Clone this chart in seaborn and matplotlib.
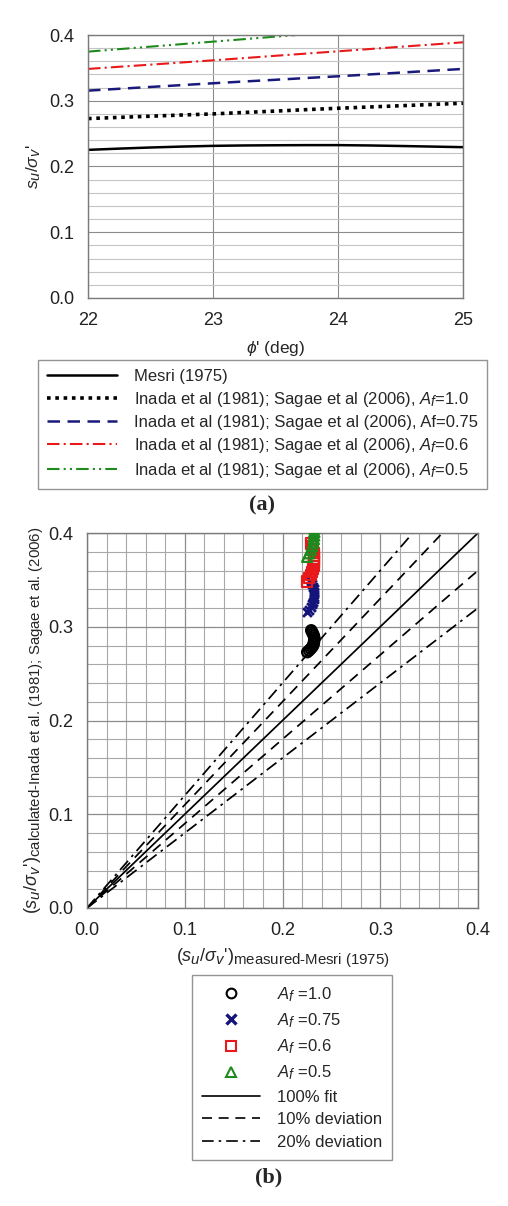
import numpy as np
import pandas as pd
import matplotlib
matplotlib.use("Agg")
import matplotlib.pyplot as plt
import matplotlib._mathtext as _mt
from matplotlib.ticker import MultipleLocator, FormatStrFormatter
from matplotlib.lines import Line2D
import seaborn as sns

# ---------------- data ----------------
phi = [22.0, 22.25, 22.5, 22.75, 23.0, 23.25, 23.5, 23.75, 24.0, 24.25, 24.5, 24.75, 25.0]
mesri = [0.2253, 0.2272, 0.2289, 0.2303, 0.2314, 0.2320, 0.2323, 0.2325, 0.2325, 0.2320, 0.2312, 0.2303, 0.2294]
af10 = [0.2729, 0.2747, 0.2765, 0.2783, 0.2800, 0.2822, 0.2843, 0.2865, 0.2886, 0.2905, 0.2924, 0.2943, 0.2962]
af075 = [0.3154, 0.3182, 0.3210, 0.3238, 0.3266, 0.3293, 0.3319, 0.3346, 0.3372, 0.3400, 0.3428, 0.3456, 0.3484]
af06 = [0.3484, 0.3517, 0.3549, 0.3582, 0.3615, 0.3649, 0.3684, 0.3718, 0.3752, 0.3786, 0.3821, 0.3855, 0.3889]
af05 = [0.3747, 0.3785, 0.3823, 0.3861, 0.3899, 0.3937, 0.3975, 0.4013, 0.4051, 0.4089, 0.4127, 0.4165, 0.4203]

fit_ratios = [1.0, 1.1, 0.9, 1.2, 0.8]
fit_styles = ["100% fit", "10% deviation", "10% deviation", "20% deviation", "20% deviation"]

legend_a = ["Mesri (1975)",
            "Inada et al (1981); Sagae et al (2006), $A_f$=1.0",
            "Inada et al (1981); Sagae et al (2006), Af=0.75",
            "Inada et al (1981); Sagae et al (2006), $A_f$=0.6",
            "Inada et al (1981); Sagae et al (2006), $A_f$=0.5"]
legend_b = ["$A_f$ =1.0", "$A_f$ =0.75", "$A_f$ =0.6", "$A_f$ =0.5"]

# ---------------- style ----------------
sns.set_style("white")
plt.rcParams["font.family"] = ["Liberation Sans", "DejaVu Sans"]
plt.rcParams["mathtext.fontset"] = "custom"
plt.rcParams["mathtext.rm"] = "Liberation Sans"
plt.rcParams["mathtext.it"] = "Liberation Sans:italic"
plt.rcParams["mathtext.bf"] = "Liberation Sans:bold"
_mt.SHRINK_FACTOR = 0.83

W, H = 508, 1206
fig = plt.figure(figsize=(W / 100, H / 100), dpi=100)
fig.patch.set_facecolor("white")

def ax_rect(l, t, r, b):
    return [l / W, 1 - b / H, (r - l) / W, (b - t) / H]

MAJ = "#8c8c8c"
MIN = "#c4c4c4"

def style_axes(ax):
    for s in ax.spines.values():
        s.set_color("#7a7a7a")
        s.set_linewidth(1.0)
    ax.tick_params(axis="both", which="major", direction="out", length=4, width=1,
                   color="#7a7a7a", labelsize=13, labelcolor="#222222")
    ax.tick_params(axis="x", which="major", pad=6)
    ax.tick_params(axis="y", which="major", pad=6)
    ax.tick_params(axis="both", which="minor", length=0)
    ax.set_axisbelow(True)

# ---------------- (a) ----------------
axa = fig.add_axes(ax_rect(88, 35, 463, 298))
series = [(mesri, "black", "-", 1.8),
          (af10, "black", (0, (1, 1.3)), 2.6),
          (af075, "#1a1a7a", (0, (5, 3)), 1.8),
          (af06, "#e8191b", (0, (6, 2, 1, 2)), 1.5),
          (af05, "#1e8a1e", (0, (6, 2, 1, 2, 1, 2)), 1.5)]
handles_a = []
for (vals, col, ls, lw), lab in zip(series, legend_a):
    sns.lineplot(x=phi, y=vals, ax=axa, color=col, linestyle=ls, linewidth=lw)
    handles_a.append(Line2D([0], [0], color=col, linestyle=ls, linewidth=lw))
axa.set_xlim(22, 25)
axa.set_ylim(0, 0.4)
axa.xaxis.set_major_locator(MultipleLocator(1))
axa.yaxis.set_major_locator(MultipleLocator(0.1))
axa.yaxis.set_minor_locator(MultipleLocator(0.02))
axa.yaxis.set_major_formatter(FormatStrFormatter("%.1f"))
axa.grid(True, which="major", color=MAJ, linewidth=0.8)
axa.grid(True, which="minor", axis="y", color=MIN, linewidth=0.8)
style_axes(axa)
axa.set_xlabel(r"$\phi$' (deg)", fontsize=12.5, labelpad=7)
axa.set_ylabel(r"$s_u/\sigma_v$'", fontsize=12.5, labelpad=4)

fig.legend(handles_a, legend_a, loc="upper left", bbox_to_anchor=(38 / W, 1 - 360 / H),
           fontsize=12, frameon=True, fancybox=False, edgecolor="#7a7a7a",
           handlelength=4.2, handletextpad=1.0, labelspacing=0.36, borderpad=0.55,
           borderaxespad=0)
fig.text(262 / W, 1 - 505 / H, "(a)", ha="center", va="center", fontsize=16,
         fontweight="bold", family="Liberation Serif")

# ---------------- (b) ----------------
axb = fig.add_axes(ax_rect(87, 533, 478, 908))
markers = [("o", "black", "none"), ("X", "#14147a", "#14147a"),
           ("s", "#e8191b", "none"), ("^", "#1e8a1e", "none")]
handles_b = []
for vals, (m, col, fc), lab in zip([af10, af075, af06, af05], markers, legend_b):
    if m == "X":
        sns.scatterplot(x=mesri, y=vals, ax=axb, marker="x", color=col, s=40,
                        linewidth=2.0, zorder=3)
        handles_b.append(Line2D([0], [0], marker="x", color="none", markeredgecolor=col,
                                markersize=7, markeredgewidth=2.4))
    else:
        sns.scatterplot(x=mesri, y=vals, ax=axb, marker=m, facecolor="none",
                        edgecolor=col, s=55, linewidth=1.6, zorder=3)
        handles_b.append(Line2D([0], [0], marker=m, color="none", markerfacecolor="none",
                                markeredgecolor=col, markersize=7, markeredgewidth=1.5))

fit_ls = {"100% fit": "-", "10% deviation": (0, (6, 4)), "20% deviation": (0, (7, 3, 1.5, 3))}
for r, name in zip(fit_ratios, fit_styles):
    axb.axline((0, 0), slope=r, color="black", linewidth=1.25, linestyle=fit_ls[name])
for name in ["100% fit", "10% deviation", "20% deviation"]:
    handles_b.append(Line2D([0], [0], color="black", linewidth=1.2, linestyle=fit_ls[name]))

axb.set_xlim(0, 0.4)
axb.set_ylim(0, 0.4)
for axis in (axb.xaxis, axb.yaxis):
    axis.set_major_locator(MultipleLocator(0.1))
    axis.set_minor_locator(MultipleLocator(0.02))
    axis.set_major_formatter(FormatStrFormatter("%.1f"))
axb.grid(True, which="major", color=MAJ, linewidth=0.9)
axb.grid(True, which="minor", color="#a8a8a8", linewidth=0.8)
style_axes(axb)
axb.set_xlabel(r"$(s_u/\sigma_v$'$)_{\text{measured-Mesri (1975)}}$", fontsize=13, labelpad=5)
axb.set_ylabel(r"$(s_u/\sigma_v$'$)_{\text{calculated-Inada et al. (1981); Sagae et al. (2006)}}$",
               fontsize=13, labelpad=2)

fig.legend(handles_b, legend_b + ["100% fit", "10% deviation", "20% deviation"],
           loc="upper center", bbox_to_anchor=(292 / W, 1 - 975 / H),
           fontsize=12, frameon=True, fancybox=False, edgecolor="#7a7a7a",
           handlelength=3.5, handletextpad=1.0, labelspacing=0.45, borderpad=0.6,
           borderaxespad=0, numpoints=1)
fig.text(269 / W, 1 - 1177 / H, "(b)", ha="center", va="center", fontsize=16,
         fontweight="bold", family="Liberation Serif")

fig.savefig("out.png", dpi=100, facecolor="white")
